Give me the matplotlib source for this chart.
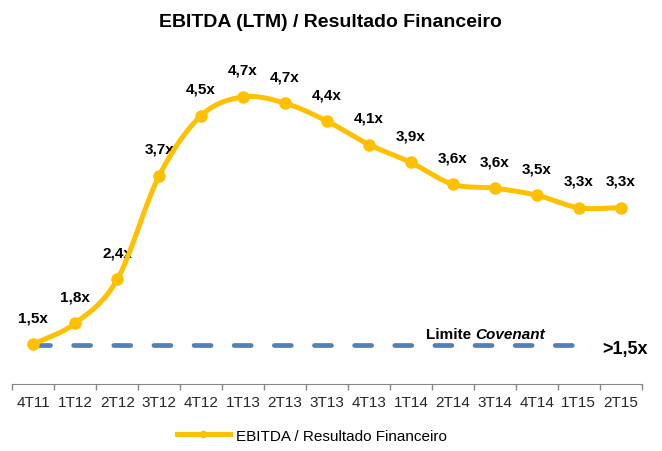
import matplotlib.pyplot as plt
import numpy as np

plt.rcParams['font.family'] = ['Liberation Sans', 'DejaVu Sans']

quarters = ['4T11', '1T12', '2T12', '3T12', '4T12', '1T13', '2T13', '3T13',
            '4T13', '1T14', '2T14', '3T14', '4T14', '1T15', '2T15']
ratio = [1.51, 1.78, 2.34, 3.67, 4.44, 4.68, 4.60, 4.37,
         4.07, 3.84, 3.56, 3.51, 3.42, 3.26, 3.26]
ratio_labels = ['1,5x', '1,8x', '2,4x', '3,7x', '4,5x', '4,7x', '4,7x', '4,4x',
                '4,1x', '3,9x', '3,6x', '3,6x', '3,5x', '3,3x', '3,3x']
covenant = 1.5
covenant_end = '1T15'

gold = '#FFC000'
blue = '#4F81BD'

x = np.arange(len(quarters))
y = np.array(ratio)


# smoothed line like Excel (catmull-rom through the points)
def smooth(xs, ys, n=30):
    px = np.concatenate([[2 * xs[0] - xs[1]], xs, [2 * xs[-1] - xs[-2]]])
    py = np.concatenate([[2 * ys[0] - ys[1]], ys, [2 * ys[-1] - ys[-2]]])
    outx, outy = [], []
    t = np.linspace(0, 1, n)
    for i in range(1, len(px) - 2):
        for p, out in ((px, outx), (py, outy)):
            p0, p1, p2, p3 = p[i - 1], p[i], p[i + 1], p[i + 2]
            out.extend(0.5 * ((2 * p1) + (-p0 + p2) * t
                              + (2 * p0 - 5 * p1 + 4 * p2 - p3) * t ** 2
                              + (-p0 + 3 * p1 - 3 * p2 + p3) * t ** 3))
    return np.array(outx), np.array(outy)


fig = plt.figure(figsize=(6.62, 4.52), dpi=100)
ax = fig.add_axes([0.0186, 0.1482, 0.9508, 0.7766])

# covenant limit
end = quarters.index(covenant_end)
ax.plot([x[0], x[end]], [covenant, covenant], color=blue, lw=3.4,
        dashes=(3.6, 4.9), dash_capstyle='round', zorder=3)

sx, sy = smooth(x.astype(float), y)
ax.plot(sx, sy, color=gold, lw=3.6, solid_capstyle='round', zorder=4)
ax.plot(x, y, 'o', color=gold, ms=8, zorder=5)
# legend proxy
ax.plot([], [], color=gold, lw=3.6, marker='o', ms=4.5,
        label='EBITDA / Resultado Financeiro')

for xi, yi, lab in zip(x, y, ratio_labels):
    ax.annotate(lab, (xi, yi), xytext=(0, 19.5), textcoords='offset points',
                ha='center', va='center', fontsize=11, fontweight='bold')

ax.text(10.54, 1.64, 'Limite ', ha='right', va='center', fontsize=11,
        fontweight='bold')
ax.text(10.54, 1.64, 'Covenant', ha='left', va='center', fontsize=11,
        fontweight='bold', style='italic')
ax.text(14.09, 1.46, '>1,5x', ha='center', va='center', fontsize=13,
        fontweight='bold')

ax.set_xlim(-0.5, 14.5)
ax.set_ylim(1.0, 5.5)
ax.set_xticks(x)
ax.set_xticklabels(quarters, fontsize=11, color='#262626')
ax.set_xticks(np.arange(-0.5, 15, 1), minor=True)
ax.tick_params(axis='x', which='major', length=0, pad=8)
ax.tick_params(axis='x', which='minor', length=4, color='#868686', width=1)
ax.set_yticks([])
for s in ['left', 'right', 'top']:
    ax.spines[s].set_visible(False)
ax.spines['bottom'].set_color('#868686')

fig.text(0.4985, 0.951, 'EBITDA (LTM) / Resultado Financeiro', fontsize=14,
         fontweight='bold', ha='center', va='center')
fig.legend(loc='center', bbox_to_anchor=(0.471, 0.034), frameon=False,
           fontsize=11, handlelength=3.5, handletextpad=0.4)

fig.savefig('out.png', dpi=100)
